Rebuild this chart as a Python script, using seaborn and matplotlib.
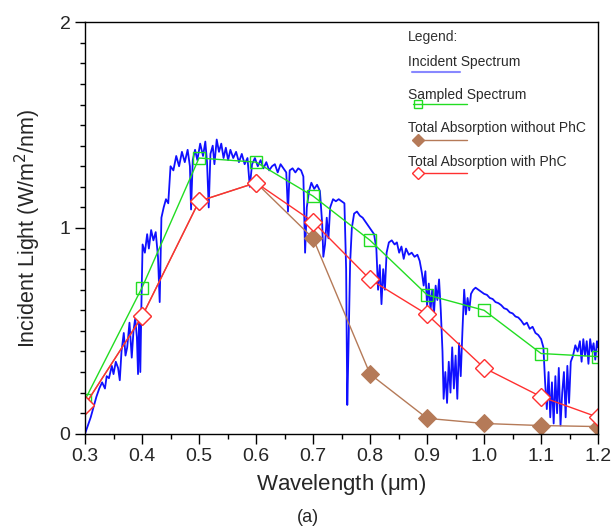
# Incident spectrum vs sampled spectrum and total absorption, with and without PhC
import matplotlib
matplotlib.use("Agg")
import matplotlib.pyplot as plt
from matplotlib.lines import Line2D
from matplotlib.ticker import MultipleLocator, FixedLocator
import seaborn as sns

# incident solar spectrum (um, W/m2/nm)
spec_wl = [
    0.300, 0.305, 0.310, 0.315, 0.320, 0.325, 0.330, 0.335, 0.338, 0.342,
    0.347, 0.350, 0.354, 0.358, 0.361, 0.364, 0.368, 0.371, 0.374, 0.378,
    0.382, 0.385, 0.388, 0.391, 0.393, 0.395, 0.397, 0.399, 0.401, 0.405,
    0.409, 0.412, 0.416, 0.420, 0.424, 0.428, 0.431, 0.434, 0.438, 0.442,
    0.446, 0.450, 0.455, 0.460, 0.465, 0.470, 0.475, 0.480, 0.484, 0.486,
    0.489, 0.493, 0.497, 0.502, 0.507, 0.511, 0.514, 0.517, 0.520, 0.524,
    0.527, 0.531, 0.535, 0.539, 0.543, 0.547, 0.551, 0.555, 0.560, 0.565,
    0.570, 0.575, 0.580, 0.585, 0.589, 0.593, 0.598, 0.603, 0.608, 0.613,
    0.618, 0.623, 0.628, 0.633, 0.638, 0.643, 0.648, 0.653, 0.656, 0.659,
    0.664, 0.669, 0.674, 0.679, 0.683, 0.686, 0.689, 0.693, 0.697, 0.702,
    0.707, 0.712, 0.716, 0.718, 0.721, 0.724, 0.727, 0.730, 0.735, 0.740,
    0.745, 0.750, 0.755, 0.758, 0.760, 0.762, 0.765, 0.768, 0.772, 0.777,
    0.782, 0.787, 0.792, 0.797, 0.802, 0.807, 0.811, 0.814, 0.817, 0.820,
    0.823, 0.826, 0.829, 0.833, 0.838, 0.843, 0.847, 0.851, 0.855, 0.859,
    0.863, 0.868, 0.873, 0.878, 0.883, 0.887, 0.891, 0.894, 0.897, 0.900,
    0.903, 0.906, 0.909, 0.912, 0.915, 0.918, 0.921, 0.924, 0.927, 0.929,
    0.932, 0.935, 0.938, 0.941, 0.944, 0.947, 0.950, 0.953, 0.956, 0.959,
    0.962, 0.965, 0.968, 0.971, 0.974, 0.977, 0.981, 0.985, 0.990, 0.995,
    1.000, 1.005, 1.010, 1.015, 1.020, 1.025, 1.030, 1.035, 1.040, 1.045,
    1.050, 1.055, 1.060, 1.065, 1.070, 1.075, 1.080, 1.085, 1.090, 1.095,
    1.100, 1.104, 1.107, 1.110, 1.113, 1.116, 1.119, 1.122, 1.125, 1.128,
    1.131, 1.134, 1.137, 1.140, 1.143, 1.146, 1.149, 1.152, 1.156, 1.160,
    1.164, 1.168, 1.171, 1.174, 1.177, 1.180, 1.183, 1.186, 1.189, 1.192,
    1.195, 1.198, 1.200,
]
spec_val = [
    0.00, 0.04, 0.08, 0.13, 0.18, 0.22, 0.25, 0.22, 0.28, 0.27,
    0.33, 0.29, 0.35, 0.32, 0.26, 0.40, 0.49, 0.38, 0.42, 0.54,
    0.37, 0.50, 0.56, 0.47, 0.29, 0.58, 0.30, 0.64, 0.92, 0.88,
    0.97, 0.90, 0.99, 0.94, 0.98, 0.86, 0.64, 1.05, 1.10, 1.14,
    1.12, 1.30, 1.28, 1.35, 1.30, 1.37, 1.32, 1.38, 1.30, 1.09,
    1.33, 1.38, 1.33, 1.41, 1.35, 1.42, 1.32, 1.10, 1.36, 1.40,
    1.31, 1.43, 1.37, 1.41, 1.34, 1.39, 1.33, 1.38, 1.34, 1.37,
    1.32, 1.36, 1.31, 1.34, 1.20, 1.31, 1.34, 1.30, 1.33, 1.29,
    1.32, 1.28, 1.30, 1.31, 1.27, 1.31, 1.29, 1.27, 1.08, 1.28,
    1.29, 1.27, 1.29, 1.28, 1.25, 0.88, 1.10, 1.18, 1.22, 1.19,
    1.21, 1.18, 1.02, 0.86, 0.92, 1.05, 0.95, 1.10, 1.14, 1.13,
    1.14, 1.13, 1.12, 0.80, 0.14, 0.40, 0.83, 1.00, 1.07, 1.08,
    1.06, 1.05, 1.03, 1.01, 0.99, 0.97, 0.90, 0.70, 0.82, 0.63,
    0.80, 0.70, 0.88, 0.93, 0.94, 0.92, 0.93, 0.88, 0.91, 0.85,
    0.90, 0.87, 0.88, 0.86, 0.87, 0.84, 0.78, 0.72, 0.79, 0.62,
    0.73, 0.60, 0.70, 0.58, 0.72, 0.65, 0.75, 0.60, 0.40, 0.17,
    0.30, 0.15, 0.35, 0.20, 0.42, 0.22, 0.38, 0.17, 0.44, 0.28,
    0.50, 0.70, 0.58, 0.66, 0.60, 0.68, 0.70, 0.71, 0.70, 0.69,
    0.68, 0.675, 0.66, 0.655, 0.64, 0.635, 0.625, 0.61, 0.605, 0.59,
    0.585, 0.57, 0.565, 0.55, 0.53, 0.54, 0.51, 0.52, 0.49, 0.48,
    0.46, 0.42, 0.25, 0.12, 0.30, 0.08, 0.25, 0.05, 0.28, 0.10,
    0.32, 0.04, 0.20, 0.30, 0.08, 0.33, 0.15, 0.35, 0.38, 0.43,
    0.40, 0.45, 0.35, 0.46, 0.38, 0.45, 0.34, 0.46, 0.40, 0.44,
    0.36, 0.45, 0.42,
]

# sampled points every 0.1 um
sample_wl = [0.3, 0.4, 0.5, 0.6, 0.7, 0.8, 0.9, 1.0, 1.1, 1.2]
sampled = [0.165, 0.71, 1.34, 1.32, 1.155, 0.94, 0.675, 0.60, 0.39, 0.375]
abs_no_phc = [0.14, 0.57, 1.13, 1.22, 0.95, 0.29, 0.075, 0.05, 0.04, 0.035]
abs_phc = [0.14, 0.57, 1.13, 1.22, 1.03, 0.75, 0.58, 0.32, 0.18, 0.08]

BLUE = "#1010ff"
GREEN = "#22dd22"
BROWN = "#b57a58"
RED = "#ff3030"

sns.set_style("ticks")
plt.rcParams["font.family"] = ["Liberation Sans", "DejaVu Sans"]

fig = plt.figure(figsize=(6.16, 5.29), dpi=100)
ax = fig.add_axes([0.138, 0.180, 0.833, 0.778])

sns.lineplot(x=spec_wl, y=spec_val, ax=ax, color=BLUE, lw=1.3,
             sort=False, estimator=None)
sns.lineplot(x=sample_wl, y=sampled, ax=ax, color=GREEN, lw=1.0,
             marker="s", markersize=9, markerfacecolor="none",
             markeredgecolor=GREEN, markeredgewidth=1.0)
sns.lineplot(x=sample_wl, y=abs_no_phc, ax=ax, color=BROWN, lw=1.0,
             marker="D", markersize=9.5, markerfacecolor=BROWN,
             markeredgecolor=BROWN)
sns.lineplot(x=sample_wl, y=abs_phc, ax=ax, color=RED, lw=1.0,
             marker="D", markersize=9, markerfacecolor="white",
             markeredgecolor=RED, markeredgewidth=1.0)

ax.set_xlim(0.3, 1.2)
ax.set_ylim(0, 2)
ax.xaxis.set_major_locator(FixedLocator(sample_wl))
ax.set_xticklabels(["%.1f" % v for v in sample_wl])
ax.xaxis.set_minor_locator(MultipleLocator(0.05))
ax.yaxis.set_major_locator(FixedLocator([0, 1, 2]))
ax.set_yticklabels(["0", "1", "2"])
ax.yaxis.set_minor_locator(MultipleLocator(0.1))
ax.tick_params(which="major", direction="out", length=7, width=1,
               labelsize=14, color="black")
ax.tick_params(which="minor", direction="out", length=3.5, width=1,
               color="black")
for s in ax.spines.values():
    s.set_visible(True)
    s.set_color("black")
    s.set_linewidth(1.0)

ax.set_xlabel("Wavelength ($\\mathregular{\\mu}$m)", fontsize=16, labelpad=5)
ax.set_ylabel("Incident Light (W/m$^2$/nm)", fontsize=15.5, labelpad=12)
fig.text(0.5, 0.022, "(a)", ha="center", va="center", fontsize=13)

# hand-made legend in the upper right corner
tx = 0.630
fs = 10
tc = "#2a2a2a"
ax.text(tx, 0.964, "Legend:", transform=ax.transAxes, fontsize=fs,
        color="#333333", va="center")
entries = [
    ("Incident Spectrum", 0.903, 0.879, BLUE, None),
    ("Sampled Spectrum", 0.823, 0.801, GREEN, "s"),
    ("Total Absorption without PhC", 0.743, 0.714, BROWN, "D"),
    ("Total Absorption with PhC", 0.660, 0.633, RED, "D"),
]
for label, ty, ly, col, mk in entries:
    ax.text(tx, ty, label, transform=ax.transAxes, fontsize=fs,
            color=tc, va="center")
    if mk is None:
        ax.add_line(Line2D([0.637, 0.731], [ly, ly], transform=ax.transAxes,
                           color="#8888ff", lw=1.5))
        continue
    ax.add_line(Line2D([0.640, 0.745], [ly, ly], transform=ax.transAxes,
                       color=col, lw=1.0))
    face = "none" if mk == "s" else (col if col == BROWN else "white")
    ax.add_line(Line2D([0.648], [ly], transform=ax.transAxes, marker=mk,
                       markersize=6, markerfacecolor=face,
                       markeredgecolor=col, lw=0))

plt.savefig("out.png", dpi=100)
